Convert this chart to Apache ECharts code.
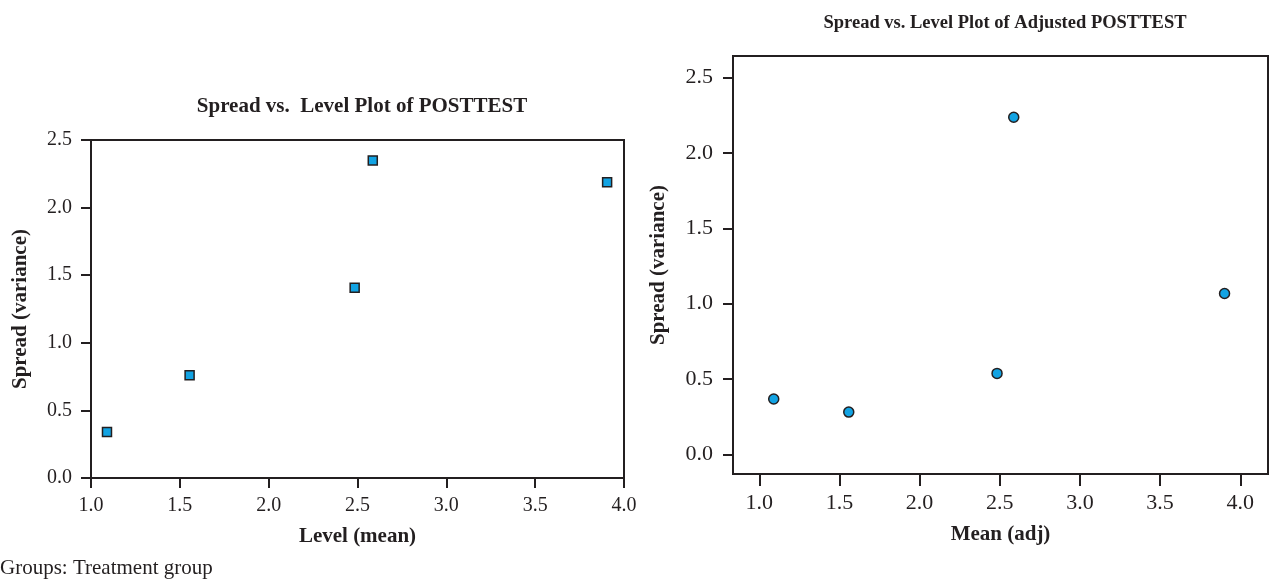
<!DOCTYPE html>
<html>
<head>
<meta charset="utf-8">
<script src="https://cdn.jsdelivr.net/npm/echarts@6/dist/echarts.min.js"></script>
<style>
  html, body { margin: 0; padding: 0; background: #fff; }
  #chart { width: 1272px; height: 579px; }
</style>
</head>
<body>
<div id="chart"></div>
<script>
// level (mean) per group, same for both panels
var levelMean = [1.09, 1.555, 2.484, 2.586, 3.905];
// spread vs level, raw posttest
var spreadRaw = [0.34, 0.76, 1.408, 2.349, 2.187];
// adjusted means and spread
var meanAdj = [1.09, 1.558, 2.483, 2.587, 3.902];
var spreadAdj = [0.367, 0.28, 0.537, 2.237, 1.067];
var tickVals = [0, 0.5, 1.0, 1.5, 2.0, 2.5];
var xTickVals = [1.0, 1.5, 2.0, 2.5, 3.0, 3.5, 4.0];

var ink = '#231f20';
var serif = '"Liberation Serif", "Times New Roman", serif';
var dotFill = '#12a3e3';

function pairs(xs, ys) {
  var out = [];
  for (var i = 0; i < xs.length; i++) {
    out.push([xs[i], ys[i]]);
  }
  return out;
}

function fmt(v) { return Number(v).toFixed(1); }

var lineStyle = { color: ink, width: 2 };
var nameStyle = { color: ink, fontFamily: serif, fontSize: 21, fontWeight: 'bold' };

var chart = echarts.init(document.getElementById('chart'), null, { renderer: 'canvas' });

chart.setOption({
  backgroundColor: '#fff',
  animation: false,
  title: [
    {
      text: 'Spread vs.  Level Plot of POSTTEST', left: 357, top: 91, textAlign: 'center',
      textStyle: { color: ink, fontFamily: serif, fontSize: 21, fontWeight: 'bold' }
    },
    {
      text: 'Spread vs. Level Plot of Adjusted POSTTEST', left: 1000, top: 9, textAlign: 'center',
      textStyle: { color: ink, fontFamily: serif, fontSize: 18.5, fontWeight: 'bold' }
    }
  ],
  graphic: [{
    type: 'text', left: 0, top: 558,
    style: { text: 'Groups: Treatment group', fill: ink, font: '21px ' + serif }
  }],
  grid: [
    { left: 91, top: 140, width: 533, height: 338, show: true, borderColor: ink, borderWidth: 2, backgroundColor: 'transparent' },
    { left: 733, top: 56, width: 535, height: 418, show: true, borderColor: ink, borderWidth: 2, backgroundColor: 'transparent' }
  ],
  xAxis: [
    {
      gridIndex: 0, type: 'value', min: 1, max: 4, interval: 0.5,
      name: 'Level (mean)', nameLocation: 'middle', nameGap: 48, nameTextStyle: nameStyle,
      axisLine: { show: true, onZero: false, lineStyle: lineStyle },
      axisTick: { show: true, length: 10, lineStyle: lineStyle },
      axisLabel: { color: ink, fontFamily: serif, fontSize: 20, formatter: fmt, margin: 18 },
      splitLine: { show: false }
    },
    {
      gridIndex: 1, type: 'value', min: 0.836, max: 4.173,
      name: 'Mean (adj)', nameLocation: 'middle', nameGap: 50, nameTextStyle: nameStyle,
      axisLine: { show: true, onZero: false, lineStyle: lineStyle },
      axisTick: { show: true, length: 12, lineStyle: lineStyle, customValues: xTickVals },
      axisLabel: { color: ink, fontFamily: serif, fontSize: 22, formatter: fmt, margin: 18, customValues: xTickVals },
      splitLine: { show: false }
    }
  ],
  yAxis: [
    {
      gridIndex: 0, type: 'value', min: 0, max: 2.5, interval: 0.5,
      name: 'Spread (variance)', nameLocation: 'middle', nameGap: 60, nameTextStyle: nameStyle,
      axisLine: { show: true, onZero: false, lineStyle: lineStyle },
      axisTick: { show: true, length: 10, lineStyle: lineStyle },
      axisLabel: { color: ink, fontFamily: serif, fontSize: 20, formatter: fmt, margin: 19 },
      splitLine: { show: false }
    },
    {
      gridIndex: 1, type: 'value', min: -0.131, max: 2.644,
      name: 'Spread (variance)', nameLocation: 'middle', nameGap: 64, nameTextStyle: nameStyle,
      axisLine: { show: true, onZero: false, lineStyle: lineStyle },
      axisTick: { show: true, length: 10, lineStyle: lineStyle, customValues: tickVals },
      axisLabel: { color: ink, fontFamily: serif, fontSize: 22, formatter: fmt, margin: 20, customValues: tickVals },
      splitLine: { show: false }
    }
  ],
  series: [
    {
      type: 'scatter', xAxisIndex: 0, yAxisIndex: 0,
      symbol: 'rect', symbolSize: 9,
      itemStyle: { color: dotFill, borderColor: ink, borderWidth: 1.5, opacity: 1 },
      data: pairs(levelMean, spreadRaw)
    },
    {
      type: 'scatter', xAxisIndex: 1, yAxisIndex: 1,
      symbol: 'circle', symbolSize: 10,
      itemStyle: { color: dotFill, borderColor: ink, borderWidth: 1.5, opacity: 1 },
      data: pairs(meanAdj, spreadAdj)
    }
  ]
});
</script>
</body>
</html>
